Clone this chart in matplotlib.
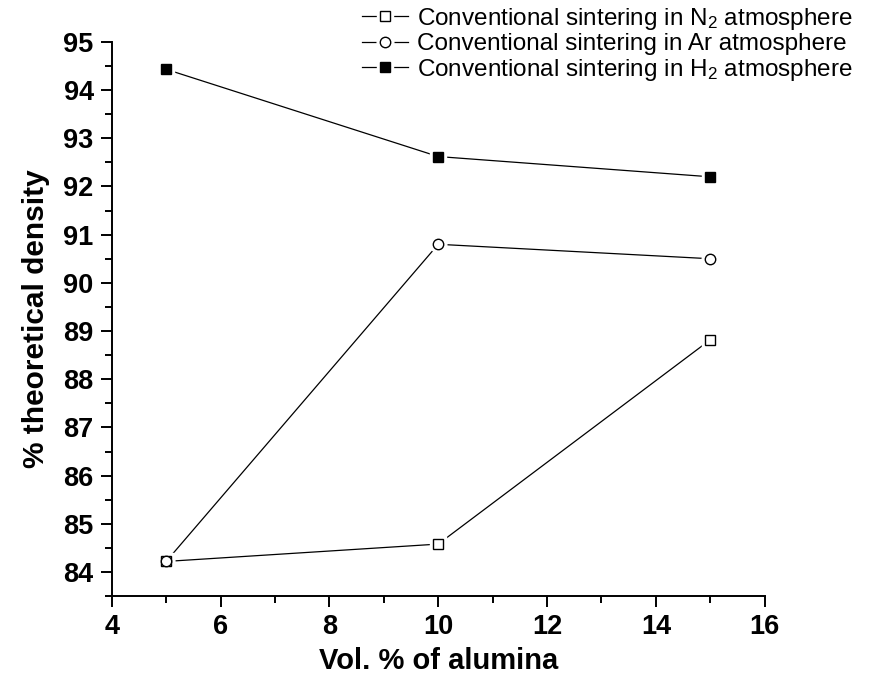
import matplotlib
matplotlib.use("Agg")
import matplotlib.pyplot as plt
from matplotlib.legend_handler import HandlerTuple
from matplotlib.ticker import MultipleLocator

plt.rcParams['font.family'] = ['Liberation Sans', 'DejaVu Sans']
plt.rcParams['mathtext.default'] = 'regular'

x_vals = [5, 10, 15]
n2_density = [84.22, 84.58, 88.82]
ar_density = [84.22, 90.80, 90.50]
h2_density = [94.43, 92.62, 92.20]
labels = ['Conventional sintering in N$_2$ atmosphere',
          'Conventional sintering in Ar atmosphere',
          'Conventional sintering in H$_2$ atmosphere']
x_label = 'Vol. % of alumina'
y_label = '% theoretical density'

fig = plt.figure(figsize=(8.73, 6.86), dpi=100)
ax = fig.add_axes([0.128, 0.131, 0.748, 0.808])

series = [(n2_density, 's', 'white'), (ar_density, 'o', 'white'), (h2_density, 's', 'black')]
handles = []
for vals, mk, fc in series:
    ln, = ax.plot(x_vals, vals, color='black', lw=0.9, zorder=2)
    wm, = ax.plot(x_vals, vals, linestyle='none', marker=mk, ms=12,
                  mfc='white', mec='white', zorder=3)
    mm, = ax.plot(x_vals, vals, linestyle='none', marker=mk, ms=7.5,
                  mfc=fc, mec='black', mew=1.0, zorder=4)
    handles.append((ln, wm, mm))

ax.set_xlim(4, 16)
ax.set_ylim(83.5, 95)
ax.xaxis.set_major_locator(MultipleLocator(2))
ax.xaxis.set_minor_locator(MultipleLocator(1))
ax.yaxis.set_major_locator(MultipleLocator(1))
ax.yaxis.set_minor_locator(MultipleLocator(0.5))
for s in ['top', 'right']:
    ax.spines[s].set_visible(False)
for s in ['left', 'bottom']:
    ax.spines[s].set_linewidth(1.4)
ax.tick_params(which='major', direction='out', length=8, width=1.4,
               labelsize=19.5, pad=5)
ax.tick_params(which='minor', direction='out', length=5, width=1.4)
for lab in ax.get_xticklabels() + ax.get_yticklabels():
    lab.set_fontweight('bold')

ax.set_xlabel(x_label, fontsize=21, fontweight='bold', labelpad=5)
ax.set_ylabel(y_label, fontsize=21.5, fontweight='bold', labelpad=10)

leg = fig.legend(handles, labels, handler_map={tuple: HandlerTuple(ndivide=1)},
                 loc='upper right', bbox_to_anchor=(0.999, 1.02), frameon=False,
                 fontsize=17.5, numpoints=1, handlelength=1.9, handletextpad=0.35,
                 labelspacing=0.06, borderpad=0.3)

fig.savefig('out.png', dpi=100)
